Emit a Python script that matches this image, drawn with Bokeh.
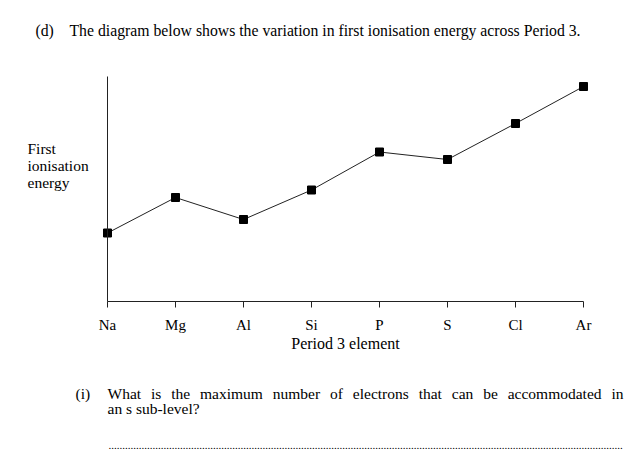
from bokeh.plotting import figure
from bokeh.models import Range1d, FixedTicker, Label
from bokeh.embed import file_html
from bokeh.resources import INLINE

# ---- data (first ionisation energy, arbitrary units) ----
elements = ["Na", "Mg", "Al", "Si", "P", "S", "Cl", "Ar"]
energy = [68.5, 104, 82, 111.5, 149.5, 142, 178, 215]
y_max = 225

title_tag = "(d)"
title_text = "The diagram below shows the variation in first ionisation energy across Period 3."
ylabel_lines = ["First", "ionisation", "energy"]
xlabel = "Period 3 element"
q_tag = "(i)"
q_line1 = "What is the maximum number of electrons that can be accommodated in"
q_line2 = "an s sub-level?"

FONT = "Liberation Serif"
xs = list(range(len(elements)))

W, H = 625, 455
X0, Y0, PX = 107, 301, 68  # canvas position of the origin, pixels per category

p = figure(width=W, height=H, output_backend="svg", toolbar_location=None,
           x_range=Range1d(-X0 / PX, (W - X0) / PX), y_range=Range1d(-(H - Y0), Y0),
           min_border=0)
p.outline_line_color = None
p.grid.visible = False
p.background_fill_color = "white"
p.border_fill_color = "white"

# x axis
xa = p.xaxis[0]
xa.fixed_location = 0
xa.ticker = FixedTicker(ticks=xs)
xa.major_label_overrides = {i: e for i, e in enumerate(elements)}
xa.bounds = (0, len(elements) - 1)
xa.major_tick_in = 0
xa.major_tick_out = 6
xa.minor_tick_line_color = None
xa.axis_line_color = "#222222"
xa.major_tick_line_color = "#222222"
xa.major_label_text_font = FONT
xa.major_label_text_font_size = "15px"
xa.major_label_text_color = "black"
xa.major_label_standoff = 9

# y axis: plain vertical line through Na
ya = p.yaxis[0]
ya.fixed_location = 0
ya.bounds = (0, y_max)
ya.ticker = FixedTicker(ticks=[])
ya.minor_tick_line_color = None
ya.major_tick_line_color = None
ya.major_label_text_color = None
ya.axis_line_color = "#222222"

p.line(xs, energy, line_color="#222222", line_width=1)
p.scatter(xs, energy, marker="square", size=8, fill_color="black", line_color="black")

# ---- texts (screen units; frame == canvas); Y is the text's vertical middle ----
def lab(text, X, Y, size="15.5px", align="left", baseline="middle"):
    p.add_layout(Label(x=X, y=H - Y, x_units="screen", y_units="screen", text=text,
                       text_font=FONT, text_font_size=size, text_color="black",
                       text_align=align, text_baseline=baseline))

lab(title_tag, 35, 30, size="15.75px")
lab(title_text, 69, 30, size="15.75px")
for i, t in enumerate(ylabel_lines):
    lab(t, 27, 148 + 17 * i)
lab(xlabel, 345, 343, size="16px", align="center")

# justified first line of the question (Times-metric widths, 1/1000 em)
CW = {"W": 944, "h": 500, "a": 444, "t": 278, "i": 278, "s": 389, "e": 444, "m": 778,
      "x": 500, "u": 500, "n": 500, "b": 500, "r": 333, "o": 500, "f": 333, "l": 278,
      "c": 444, "d": 500}
fs = 15.5
left, right = 107, 623
words = q_line1.split(" ")
widths = [sum(CW[c] for c in w) * fs / 1000 for w in words]
gap = (right - left - sum(widths)) / (len(words) - 1)
lab(q_tag, 75, 393)
cx = left
for w, wd in zip(words, widths):
    lab(w, cx, 393)
    cx += wd + gap
lab(q_line2, 107, 408)
lab("." * 187, 108, 445, size="11px")

open("out.html", "w").write(file_html(p, INLINE))
